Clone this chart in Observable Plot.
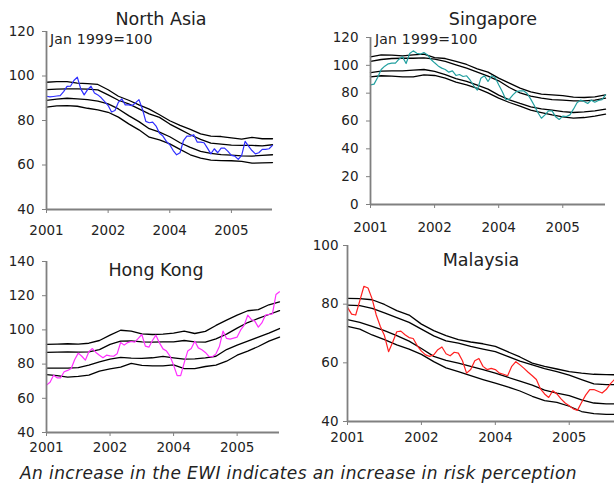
<!DOCTYPE html>
<html>
<head>
<meta charset="utf-8">
<script src="https://cdn.jsdelivr.net/npm/d3@7"></script>
<script src="https://cdn.jsdelivr.net/npm/@observablehq/plot@0.6"></script>
<style>
  html, body { margin: 0; padding: 0; background: #fff; }
  #wrap { position: relative; width: 614px; height: 485px; overflow: hidden; font-family: "DejaVu Sans", Verdana, sans-serif; color: #222; }
  .panel { position: absolute; }
  .title { position: absolute; font-size: 17.5px; line-height: 1; white-space: nowrap; transform: translateX(-50%); }
  .note { position: absolute; font-size: 14px; line-height: 1; white-space: nowrap; letter-spacing: 0.2px; }
  .caption { position: absolute; font-size: 17px; line-height: 1; font-style: italic; white-space: nowrap; letter-spacing: 0.4px; }
</style>
</head>
<body>
<div id="wrap"></div>
<script>
// ---- x axis: monthly index, Jan 2001 = 0 ----
const months = d3.range(0, 67);          // monthly observations
const quarters = d3.range(0, 67, 3);     // grid for the band lines
const xTicks = [0, 18, 36, 54];
const xTickLabels = ["2001", "2002", "2004", "2005"];

// ---- North Asia ----
const naActual = [90.9, 90.6, 90.8, 91.0, 91.2, 93.0, 95.3, 95.4, 98.0, 99.5,
  94.2, 91.5, 93.9, 95.4, 92.4, 91.5, 90.2, 88.5, 86.7, 83.8,
  84.5, 88.2, 89.7, 87.0, 87.0, 86.7, 87.9, 89.4, 85.2, 79.6,
  79.0, 79.3, 77.5, 74.3, 73.0, 70.6, 69.1, 66.5, 64.6, 65.5,
  71.0, 73.0, 73.0, 73.6, 70.3, 70.3, 70.0, 67.6, 65.0, 67.3,
  65.5, 67.6, 67.6, 66.1, 64.3, 64.0, 62.5, 64.3, 70.6, 68.5,
  66.5, 65.0, 65.5, 67.0, 67.0, 67.3, 68.8];
const naBand1 = [97.2, 97.5, 97.5, 96.8, 96.6, 96.2, 93.8, 90.9, 89.1, 87.0, 85.1, 82.6, 79.9, 77.8, 76.0, 74.0, 73.0, 72.8, 72.2, 71.6, 72.4, 71.8, 71.8];
const naBand2 = [93.9, 94.1, 94.2, 94.2, 94.1, 93.8, 91.5, 89.1, 87.5, 85.2, 83.0, 81.4, 78.4, 76.0, 73.6, 71.5, 69.8, 69.4, 68.9, 68.8, 68.8, 68.6, 69.1];
const naBand3 = [89.0, 89.6, 90.0, 89.7, 89.4, 88.7, 87.5, 85.2, 82.2, 79.5, 76.3, 74.8, 72.7, 70.0, 67.9, 66.1, 65.2, 64.7, 64.4, 64.1, 64.0, 64.3, 64.6];
const naBand4 = [86.0, 86.6, 86.7, 86.4, 85.5, 84.8, 83.7, 81.5, 78.5, 75.8, 72.5, 71.3, 69.5, 67.0, 64.6, 63.1, 62.2, 62.0, 61.9, 61.6, 60.8, 61.0, 61.1];

// ---- Singapore ----
const sgActual = [86.0, 86.5, 91.3, 97.0, 99.4, 101.1, 101.6, 101.6, 104.4, 106.1,
  101.3, 108.5, 110.4, 108.7, 108.0, 109.2, 107.5, 104.2, 101.8, 99.6,
  98.0, 97.0, 95.1, 96.0, 92.7, 93.4, 92.0, 92.5, 89.3, 85.3,
  82.2, 90.8, 92.5, 88.4, 92.5, 91.3, 86.0, 81.2, 75.4, 75.7,
  78.8, 81.2, 81.7, 81.7, 79.8, 75.7, 71.1, 66.1, 62.0, 64.4,
  67.3, 67.3, 63.0, 61.1, 63.5, 63.2, 64.4, 68.5, 73.1, 75.0,
  74.0, 72.6, 75.0, 73.5, 74.7, 75.4, 78.8];
const sgBand1 = [106.1, 107.5, 107.3, 106.8, 107.5, 108.0, 105.6, 104.9, 102.8, 100.6, 97.5, 95.1, 90.8, 87.2, 83.6, 81.0, 79.3, 78.8, 78.3, 77.1, 76.9, 77.4, 78.8];
const sgBand2 = [102.8, 104.2, 104.9, 105.1, 105.1, 105.4, 104.4, 102.8, 100.4, 98.0, 95.1, 92.2, 88.9, 84.1, 80.2, 77.8, 76.4, 75.4, 75.0, 74.5, 74.5, 75.0, 76.4];
const sgBand3 = [94.8, 95.8, 96.0, 96.0, 96.5, 97.0, 95.6, 93.4, 90.5, 88.4, 85.7, 82.9, 78.6, 75.2, 72.6, 70.2, 68.7, 67.8, 66.8, 66.1, 66.6, 67.3, 68.5];
const sgBand4 = [91.7, 92.5, 92.2, 91.7, 91.7, 93.2, 92.7, 90.8, 87.9, 86.0, 83.4, 80.2, 76.4, 73.3, 70.7, 67.8, 66.1, 64.4, 63.0, 62.0, 62.5, 63.5, 64.9];

// ---- Hong Kong ----
const hkActual = [67.7, 69.4, 73.5, 72.0, 72.0, 75.5, 76.3, 77.4, 82.7, 86.4,
  84.6, 82.3, 87.2, 89.1, 86.8, 85.2, 83.7, 85.2, 84.8, 84.6,
  86.0, 92.6, 91.1, 92.6, 93.2, 92.8, 95.0, 97.3, 90.5, 89.9,
  93.8, 96.9, 92.4, 88.9, 87.6, 84.6, 79.4, 73.3, 73.3, 80.7,
  87.6, 89.1, 93.4, 89.5, 88.4, 86.8, 84.5, 84.3, 86.0, 90.5,
  99.3, 95.0, 94.6, 95.2, 95.8, 100.0, 102.8, 108.6, 106.1, 105.1,
  101.6, 104.1, 108.6, 109.0, 109.4, 120.7, 122.3];
const hkBand1 = [91.5, 91.7, 91.9, 91.7, 92.2, 93.8, 96.9, 99.8, 99.3, 97.7, 97.3, 97.5, 98.1, 99.3, 97.9, 99.1, 102.6, 105.7, 108.6, 111.2, 111.9, 114.7, 116.4];
const hkBand2 = [86.8, 87.0, 87.2, 87.0, 87.2, 88.5, 91.5, 93.4, 93.6, 93.0, 92.8, 93.0, 93.0, 93.8, 93.0, 92.8, 94.8, 97.5, 101.0, 104.3, 106.7, 109.0, 111.3];
const hkBand3 = [77.6, 77.6, 77.6, 77.9, 79.4, 81.3, 82.9, 83.9, 83.5, 83.3, 83.7, 84.5, 83.7, 82.9, 83.1, 83.7, 84.6, 88.5, 91.1, 93.4, 95.8, 98.1, 100.8];
const hkBand4 = [73.9, 73.2, 72.4, 72.8, 73.5, 75.9, 77.2, 78.2, 80.4, 79.2, 79.0, 79.0, 79.6, 77.4, 77.4, 78.6, 79.4, 81.7, 85.2, 87.6, 90.3, 93.4, 95.8];

// ---- Malaysia ----
const myActual = [78.9, 76.6, 76.3, 81.2, 86.1, 85.5, 81.8, 76.3, 72.4, 69.3,
  63.8, 67.0, 70.6, 70.8, 69.6, 68.6, 68.3, 65.8, 64.0, 62.7,
  62.2, 62.7, 64.5, 65.4, 63.1, 62.4, 63.6, 63.3, 60.7, 56.5,
  57.7, 60.7, 61.5, 58.8, 57.7, 58.1, 57.7, 56.5, 56.1, 55.6,
  58.8, 60.4, 59.3, 58.1, 56.8, 55.6, 54.3, 51.1, 49.4, 48.2,
  50.5, 49.4, 47.7, 46.3, 45.4, 44.3, 43.8, 46.5, 49.0, 50.9,
  50.9, 50.3, 49.7, 50.9, 52.8, 54.3];
const myBand1 = [82.0, 81.9, 81.5, 79.9, 77.8, 76.3, 73.2, 71.0, 69.3, 67.9, 67.1, 66.5, 65.6, 63.8, 62.0, 59.9, 58.8, 57.9, 57.0, 56.5, 56.1, 56.0, 55.9];
const myBand2 = [79.7, 79.5, 78.6, 77.0, 75.4, 73.8, 71.5, 69.2, 67.5, 66.7, 65.6, 64.7, 63.8, 62.2, 60.6, 59.3, 58.0, 57.0, 55.8, 54.3, 52.8, 52.6, 52.6];
const myBand3 = [74.7, 73.8, 72.4, 71.0, 69.3, 67.4, 64.9, 62.2, 60.8, 59.9, 58.8, 57.7, 56.5, 55.1, 53.8, 52.4, 50.7, 49.7, 48.8, 47.4, 46.3, 46.0, 46.0];
const myBand4 = [72.4, 71.5, 69.5, 67.9, 66.1, 64.7, 62.9, 60.4, 58.3, 57.0, 55.6, 54.3, 53.1, 51.8, 50.4, 48.6, 47.1, 46.5, 45.2, 43.4, 42.7, 42.4, 42.4];

const wrap = document.getElementById("wrap");

function panel(cfg) {
  const bandMarks = cfg.bands.map(b =>
    Plot.line(quarters.map((t, i) => ({t, v: b[i]})), {x: "t", y: "v", stroke: "#000", strokeWidth: 1.3})
  );
  const actual = cfg.series.map((v, i) => ({t: months[i], v}));
  const chart = Plot.plot({
    width: cfg.width, height: cfg.height,
    marginLeft: cfg.mL, marginRight: cfg.mR, marginTop: cfg.mT, marginBottom: cfg.mB,
    x: {domain: [0, 66]},
    y: {domain: cfg.yDomain},
    style: {fontFamily: "'DejaVu Sans', Verdana, sans-serif", fontSize: "13.5px", color: "#222", background: "transparent", overflow: "visible"},
    marks: [
      ...bandMarks,
      Plot.line(actual, {x: "t", y: "v", stroke: cfg.color, strokeWidth: 1.2}),
      Plot.ruleX([0], {stroke: "#808080", strokeWidth: 1.8}),
      Plot.ruleY([cfg.yDomain[0]], {stroke: "#808080", strokeWidth: 1.8}),
      Plot.axisY({ticks: cfg.yTicks, tickSize: 4, tickPadding: cfg.yPad, stroke: "#808080", label: null, fill: "#222"}),
      Plot.axisX({ticks: xTicks, tickFormat: d => xTickLabels[xTicks.indexOf(d)], tickSize: 4, tickPadding: cfg.xPad, stroke: "#808080", label: null, fill: "#222"})
    ]
  });
  chart.classList.add("panel");
  chart.style.left = cfg.left + "px";
  chart.style.top = cfg.top + "px";
  wrap.appendChild(chart);
}

panel({left: 0, top: 0, width: 307, height: 240, mL: 46, mR: 35, mT: 31, mB: 31,
  yDomain: [40, 120], yTicks: [40, 60, 80, 100, 120], series: naActual,
  bands: [naBand1, naBand2, naBand3, naBand4], color: "#2f2fff", xPad: 12, yPad: 8});
panel({left: 307, top: 0, width: 307, height: 240, mL: 63, mR: 9, mT: 37, mB: 36,
  yDomain: [0, 120], yTicks: [0, 20, 40, 60, 80, 100, 120], series: sgActual,
  bands: [sgBand1, sgBand2, sgBand3, sgBand4], color: "#22a0a0", xPad: 14, yPad: 8});
panel({left: 0, top: 240, width: 307, height: 210, mL: 46, mR: 28, mT: 21, mB: 18,
  yDomain: [40, 140], yTicks: [40, 60, 80, 100, 120, 140], series: hkActual,
  bands: [hkBand1, hkBand2, hkBand3, hkBand4], color: "#ff30ff", xPad: 6, yPad: 8});
panel({left: 307, top: 240, width: 311, height: 210, mL: 40, mR: 0, mT: 5, mB: 29,
  yDomain: [40, 100], yTicks: [40, 60, 80, 100], series: myActual,
  bands: [myBand1, myBand2, myBand3, myBand4], color: "#ff2020", xPad: 7, yPad: 5});

function addText(cls, text, left, top) {
  const d = document.createElement("div");
  d.className = cls;
  d.textContent = text;
  d.style.left = left + "px";
  d.style.top = top + "px";
  wrap.appendChild(d);
}
addText("title", "North Asia", 161, 11);
addText("title", "Singapore", 493, 11);
addText("title", "Hong Kong", 156, 262);
addText("title", "Malaysia", 481, 252);
addText("note", "Jan 1999=100", 50, 32);
addText("note", "Jan 1999=100", 375, 32);
addText("caption", "An increase in the EWI indicates an increase in risk perception", 20, 465);
</script>
</body>
</html>
